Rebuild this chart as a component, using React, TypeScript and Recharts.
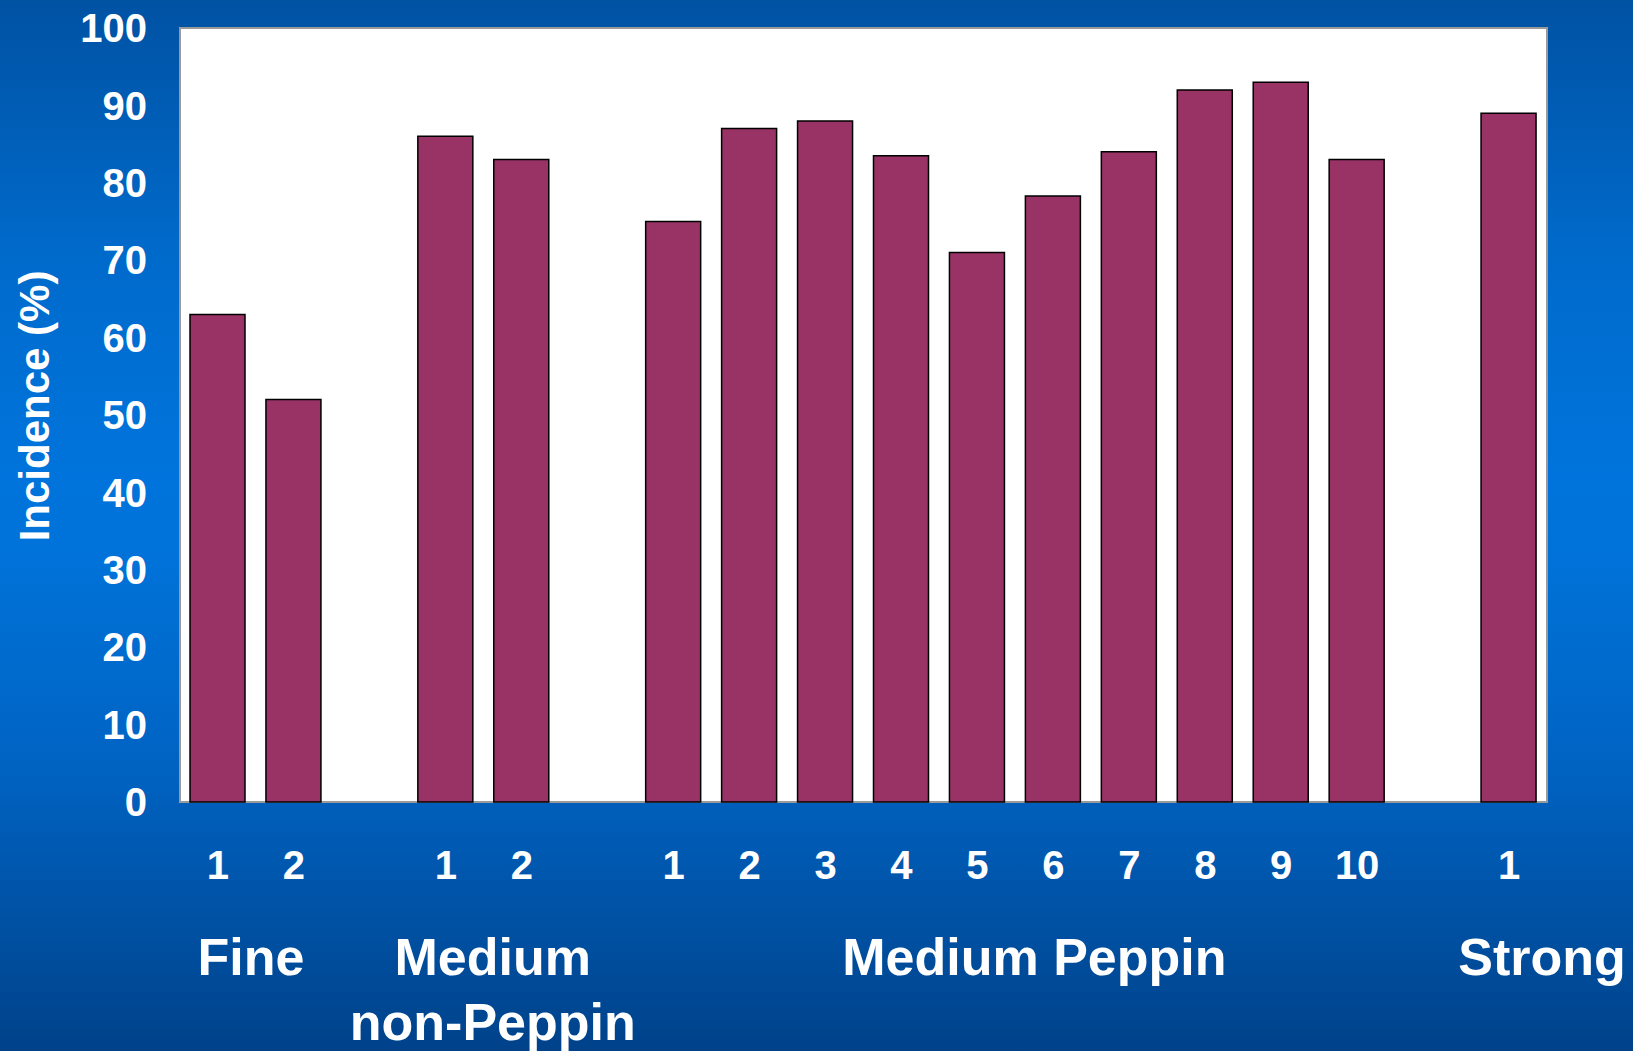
import React from "react";
import {
  BarChart,
  Bar,
  XAxis,
  YAxis,
  CartesianGrid,
  ReferenceArea,
} from "recharts";

// values (incidence, %)
const fine = [63, 52];
const mediumNonPeppin = [86, 83];
const mediumPeppin = [75, 87, 88, 83.5, 71, 78.3, 84, 92, 93, 83];
const strong = [89];

const groupNames = ["Fine", "Medium\nnon-Peppin", "Medium Peppin", "Strong"];
const groupValues = [fine, mediumNonPeppin, mediumPeppin, strong];
const yTicks = [0, 10, 20, 30, 40, 50, 60, 70, 80, 90, 100];

interface Row {
  key: string;
  label: string;
  value: number | null;
  group: number;
  pos: number;
  size: number;
}

// one slot per sample, with an empty slot between groups
const rows: Row[] = [];
groupValues.forEach((vals, g) => {
  vals.forEach((v, i) => {
    rows.push({ key: `g${g}-${i}`, label: String(i + 1), value: v, group: g, pos: i, size: vals.length });
  });
  if (g < groupValues.length - 1) {
    rows.push({ key: `gap${g}`, label: "", value: null, group: g, pos: -1, size: 0 });
  }
});

const W = 1633;
const H = 1051;
const margin = { top: 28, right: 86, bottom: 0, left: 0 };
const yAxisWidth = 180;
const xAxisHeight = 249;
const band = (W - yAxisWidth - margin.right) / rows.length;
const labelNudge = [-5, 9, 19, 33];

const FONT = '"Liberation Sans", Arial, sans-serif';

const XTick = (props: any) => {
  const { x, y, index } = props;
  const row = rows[index];
  if (!row) return null;
  const showGroup = row.pos === 0;
  const gx = x + ((row.size - 1) / 2) * band + labelNudge[row.group];
  const lines = groupNames[row.group].split("\n");
  return (
    <g>
      {row.label && (
        <text x={x} y={y + 55} dy="0.36em" textAnchor="middle" fill="#fff" fontSize={40} fontWeight="bold" fontFamily={FONT}>
          {row.label}
        </text>
      )}
      {showGroup &&
        lines.map((ln, i) => (
          <text key={i} x={gx} y={y + 146 + i * 65} dy="0.36em" textAnchor="middle" fill="#fff" fontSize={52} fontWeight="bold" fontFamily={FONT}>
            {ln}
          </text>
        ))}
    </g>
  );
};

const YLabel = (props: any) => {
  const vb = props.viewBox || { x: 0, y: 0, width: 0, height: 0 };
  const cx = vb.x + 34;
  const cy = vb.y + vb.height / 2 - 9;
  return (
    <text x={cx} y={cy} dy="0.36em" transform={`rotate(-90, ${cx}, ${cy})`} textAnchor="middle" fill="#fff" fontSize={42} fontWeight="bold" fontFamily={FONT}>
      Incidence (%)
    </text>
  );
};

export default function App() {
  return (
    <div
      style={{
        position: "absolute",
        left: 0,
        top: 0,
        width: W,
        height: H,
        overflow: "hidden",
        background: "linear-gradient(to bottom, #0052a3 0%, #006acb 24%, #0074dc 45%, #0073da 52%, #0064c4 72%, #00428a 100%)",
      }}
    >
      <BarChart width={W} height={H} data={rows} margin={margin}>
        <CartesianGrid fill="#fff" fillOpacity={1} horizontal={false} vertical={false} />
        <XAxis
          dataKey="key"
          height={xAxisHeight}
          interval={0}
          axisLine={false}
          tickLine={false}
          tick={<XTick />}
        />
        <YAxis
          width={yAxisWidth}
          domain={[0, 100]}
          ticks={yTicks}
          axisLine={false}
          tickLine={false}
          tickMargin={27}
          tick={{ fill: "#fff", fontSize: 40, fontWeight: "bold", fontFamily: FONT }}
          label={{ content: <YLabel /> }}
        />
        <ReferenceArea
          x1={rows[0].key}
          x2={rows[rows.length - 1].key}
          y1={0}
          y2={100}
          fill="none"
          stroke="#9a9a9a"
          strokeWidth={2}
          ifOverflow="visible"
        />
        <Bar
          dataKey="value"
          fill="#993366"
          stroke="#000"
          strokeWidth={1.5}
          barSize={55}
          isAnimationActive={false}
        />
      </BarChart>
    </div>
  );
}
